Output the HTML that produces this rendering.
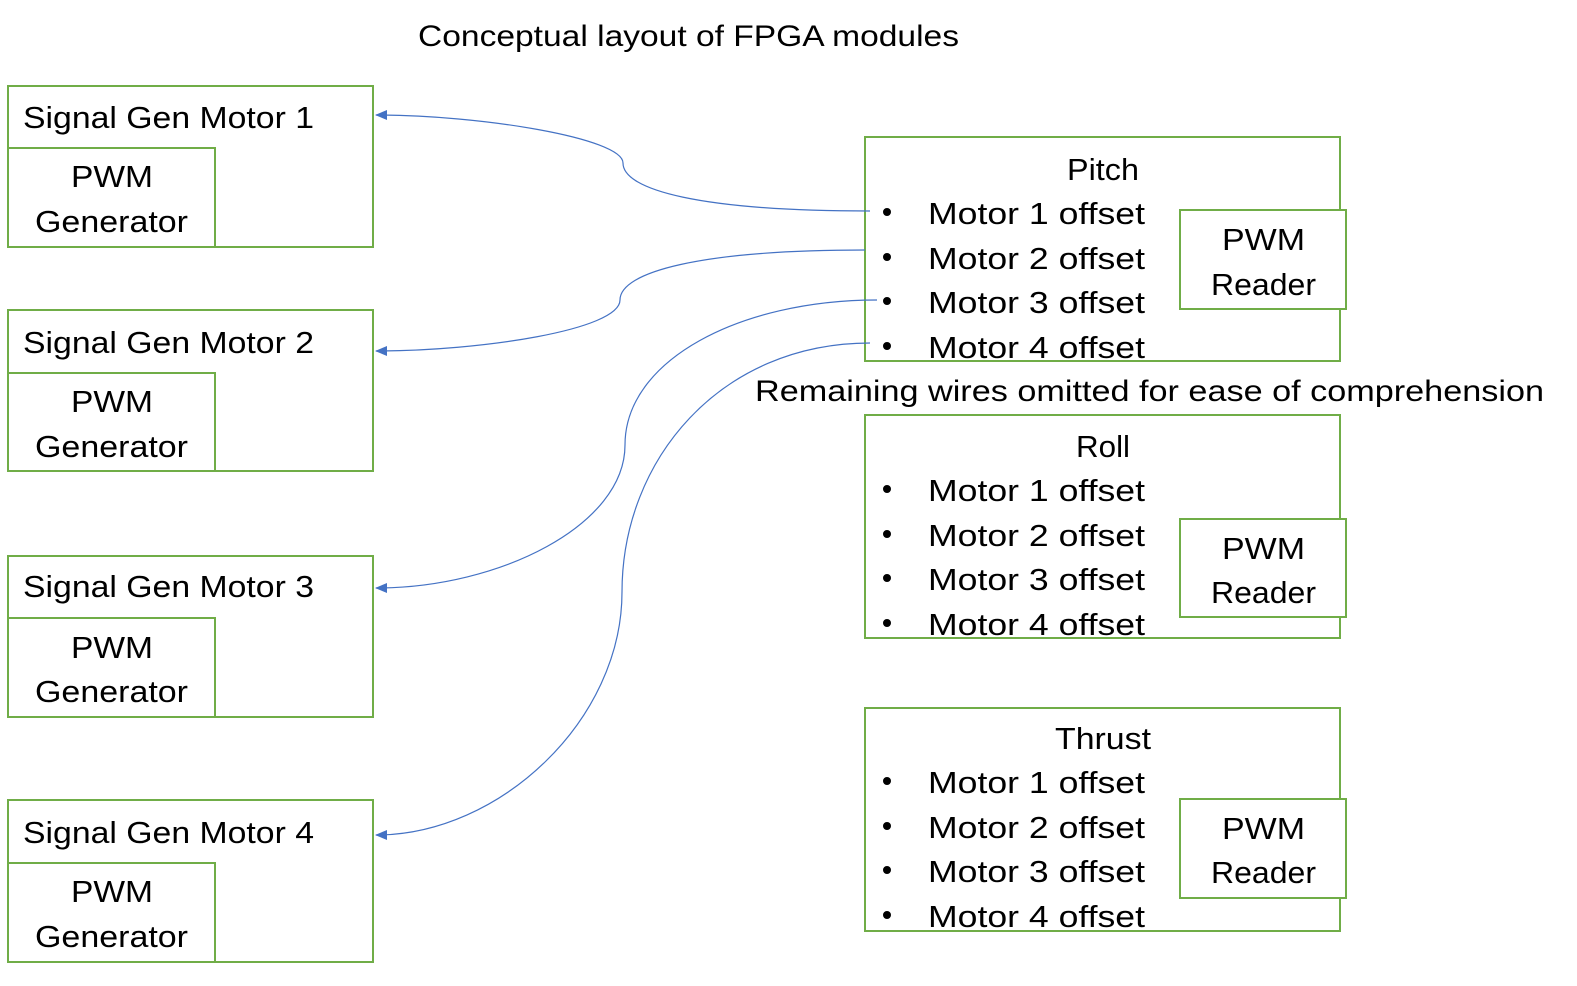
<!DOCTYPE html>
<html><head><meta charset="utf-8"><style>
html,body{margin:0;padding:0;background:#fff;}
svg{display:block;}
text{font-family:"Liberation Sans",sans-serif;fill:#000;}
</style></head><body>
<svg width="1577" height="986" viewBox="0 0 1577 986" xmlns="http://www.w3.org/2000/svg">
<defs>
<marker id="ah" markerWidth="12" markerHeight="10" refX="11" refY="5" orient="auto" markerUnits="userSpaceOnUse">
<path d="M0,0 L12,5 L0,10 Z" fill="#4472C4"/>
</marker>
</defs>
<g fill="none" stroke="#70AD47" stroke-width="2">
<rect x="8" y="86" width="365" height="161"/><rect x="8" y="148" width="207" height="99"/>
<rect x="8" y="310" width="365" height="161"/><rect x="8" y="373" width="207" height="98"/>
<rect x="8" y="556" width="365" height="161"/><rect x="8" y="618" width="207" height="99"/>
<rect x="8" y="800" width="365" height="162"/><rect x="8" y="863" width="207" height="99"/>
<rect x="865" y="137" width="475" height="224"/>
<rect x="865" y="415" width="475" height="223"/>
<rect x="865" y="708" width="475" height="223"/>
</g>
<g fill="#fff" stroke="#70AD47" stroke-width="2">
<rect x="1180" y="210" width="166" height="99"/>
<rect x="1180" y="519" width="166" height="98"/>
<rect x="1180" y="799" width="166" height="99"/>
</g>
<g fill="none" stroke="#4472C4" stroke-width="1.2">
<path d="M870,211 C700,211 623,190 623,163 C623,138 480,115 376,115" marker-end="url(#ah)"/>
<path d="M865,250 C700,250 620,272 620,300 C620,330 480,351 376,351" marker-end="url(#ah)"/>
<path d="M877,300 C740,300 625,360 625,445 C625,525 500,588 376,588" marker-end="url(#ah)"/>
<path d="M870,343 C720,343 622,460 622,592 C622,720 500,835 376,835" marker-end="url(#ah)"/>
</g>
<text x="418" y="46" font-size="30" textLength="541" lengthAdjust="spacingAndGlyphs">Conceptual layout of FPGA modules</text>
<text x="755" y="401" font-size="30" textLength="789" lengthAdjust="spacingAndGlyphs">Remaining wires omitted for ease of comprehension</text>
<g font-size="31" lengthAdjust="spacingAndGlyphs">
<text x="23" y="128" textLength="291" lengthAdjust="spacingAndGlyphs">Signal Gen Motor 1</text>
<text x="23" y="353" textLength="291" lengthAdjust="spacingAndGlyphs">Signal Gen Motor 2</text>
<text x="23" y="597" textLength="291" lengthAdjust="spacingAndGlyphs">Signal Gen Motor 3</text>
<text x="23" y="843" textLength="291" lengthAdjust="spacingAndGlyphs">Signal Gen Motor 4</text>
</g>
<g font-size="31">
<text x="71" y="187" textLength="82" lengthAdjust="spacingAndGlyphs">PWM</text><text x="35" y="232" textLength="153" lengthAdjust="spacingAndGlyphs">Generator</text>
<text x="71" y="412" textLength="82" lengthAdjust="spacingAndGlyphs">PWM</text><text x="35" y="457" textLength="153" lengthAdjust="spacingAndGlyphs">Generator</text>
<text x="71" y="658" textLength="82" lengthAdjust="spacingAndGlyphs">PWM</text><text x="35" y="702" textLength="153" lengthAdjust="spacingAndGlyphs">Generator</text>
<text x="71" y="902" textLength="82" lengthAdjust="spacingAndGlyphs">PWM</text><text x="35" y="947" textLength="153" lengthAdjust="spacingAndGlyphs">Generator</text>
<text x="1067" y="180" textLength="72" lengthAdjust="spacingAndGlyphs">Pitch</text>
<text x="1076" y="457" textLength="54" lengthAdjust="spacingAndGlyphs">Roll</text>
<text x="1055" y="749" textLength="96" lengthAdjust="spacingAndGlyphs">Thrust</text>
<text x="1222" y="250" textLength="83" lengthAdjust="spacingAndGlyphs">PWM</text><text x="1211" y="295" textLength="105" lengthAdjust="spacingAndGlyphs">Reader</text>
<text x="1222" y="559" textLength="83" lengthAdjust="spacingAndGlyphs">PWM</text><text x="1211" y="603" textLength="105" lengthAdjust="spacingAndGlyphs">Reader</text>
<text x="1222" y="839" textLength="83" lengthAdjust="spacingAndGlyphs">PWM</text><text x="1211" y="883" textLength="105" lengthAdjust="spacingAndGlyphs">Reader</text>
</g>
<g font-size="31">
<text x="928" y="224" textLength="217" lengthAdjust="spacingAndGlyphs">Motor 1 offset</text>
<text x="928" y="269" textLength="217" lengthAdjust="spacingAndGlyphs">Motor 2 offset</text>
<text x="928" y="313" textLength="217" lengthAdjust="spacingAndGlyphs">Motor 3 offset</text>
<text x="928" y="358" textLength="217" lengthAdjust="spacingAndGlyphs">Motor 4 offset</text>
<text x="928" y="501" textLength="217" lengthAdjust="spacingAndGlyphs">Motor 1 offset</text>
<text x="928" y="546" textLength="217" lengthAdjust="spacingAndGlyphs">Motor 2 offset</text>
<text x="928" y="590" textLength="217" lengthAdjust="spacingAndGlyphs">Motor 3 offset</text>
<text x="928" y="635" textLength="217" lengthAdjust="spacingAndGlyphs">Motor 4 offset</text>
<text x="928" y="793" textLength="217" lengthAdjust="spacingAndGlyphs">Motor 1 offset</text>
<text x="928" y="838" textLength="217" lengthAdjust="spacingAndGlyphs">Motor 2 offset</text>
<text x="928" y="882" textLength="217" lengthAdjust="spacingAndGlyphs">Motor 3 offset</text>
<text x="928" y="927" textLength="217" lengthAdjust="spacingAndGlyphs">Motor 4 offset</text>
</g>
<g fill="#000">
<circle cx="887" cy="212" r="4"/><circle cx="887" cy="257" r="4"/><circle cx="887" cy="301" r="4"/><circle cx="887" cy="346" r="4"/>
<circle cx="887" cy="489" r="4"/><circle cx="887" cy="534" r="4"/><circle cx="887" cy="578" r="4"/><circle cx="887" cy="623" r="4"/>
<circle cx="887" cy="781" r="4"/><circle cx="887" cy="826" r="4"/><circle cx="887" cy="870" r="4"/><circle cx="887" cy="915" r="4"/>
</g>
</svg>
</body></html>
